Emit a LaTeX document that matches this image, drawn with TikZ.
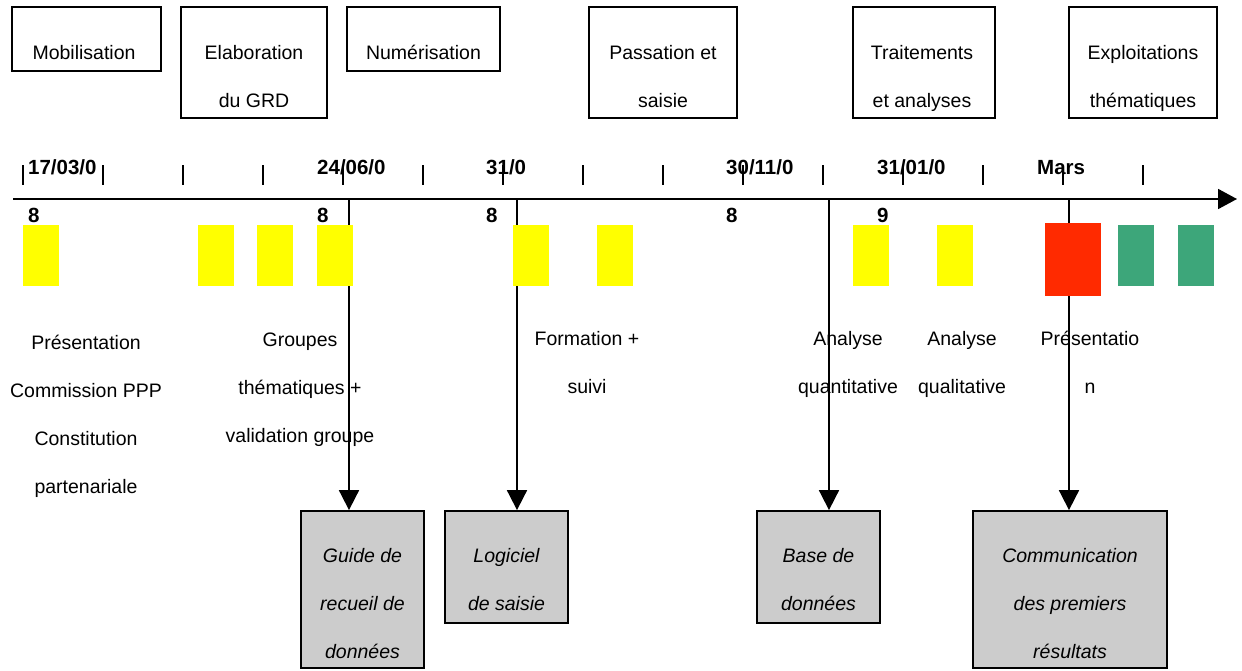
\documentclass[tikz,border=0pt]{standalone}
\usepackage{fontspec}
\setmainfont{Liberation Sans}
\usetikzlibrary{arrows.meta}
\definecolor{ylw}{HTML}{FFFF00}
\definecolor{rd}{HTML}{FF2A00}
\definecolor{grn}{HTML}{3DA67A}
\definecolor{gry}{HTML}{CCCCCC}
\begin{document}
\begin{tikzpicture}[x=1pt,y=-1pt,
  txt/.style={font=\fontsize{19.5}{48}\selectfont, inner sep=0pt, align=center, anchor=base},
  itxt/.style={font=\fontsize{19.5}{48}\selectfont\itshape, inner sep=0pt, align=center, anchor=base},
  datelbl/.style={font=\fontsize{20.5}{48}\selectfont\bfseries, inner sep=0pt, align=left, anchor=base west},
  topbox/.style={draw, line width=1.8pt, inner sep=0pt},
  outbox/.style={draw, line width=1.8pt, fill=gry, inner sep=0pt},
  ybar/.style={fill=ylw, inner sep=0pt, minimum width=36pt, minimum height=61pt},
  gbar/.style={fill=grn, inner sep=0pt, minimum width=36pt, minimum height=61pt},
  arr/.style={line width=1.8pt, -{Triangle[length=20pt,width=20pt]}},
  tickmark/.style={line width=1.8pt}]
\clip (0,0) rectangle (1242,670);

% top phase boxes
\node[topbox, minimum width=149pt, minimum height=64pt] (bmob) at (86.5,39) {};
\node[topbox, minimum width=146pt, minimum height=111pt] (belab) at (254,62.5) {};
\node[topbox, minimum width=153pt, minimum height=64pt] (bnum) at (423.5,39) {};
\node[topbox, minimum width=148pt, minimum height=111pt] (bpass) at (663,62.5) {};
\node[topbox, minimum width=142pt, minimum height=111pt] (btrait) at (924,62.5) {};
\node[topbox, minimum width=148pt, minimum height=111pt] (bexpl) at (1143,62.5) {};
% (anchor=base is the baseline of the last line)
\node[txt] (tmob) at (84,59) {Mobilisation};
\node[txt] (telab) at (254,107) {Elaboration\\du GRD};
\node[txt] (tnum) at (423.5,59) {Numérisation};
\node[txt] (tpass) at (663,107) {Passation et\\saisie};
\node[txt] (ttrait) at (922,107) {Traitements\\et analyses};
\node[txt] (texpl) at (1143,107) {Exploitations\\thématiques};

% dates
\node[datelbl] (d1) at (28,222) {17/03/0\\8};
\node[datelbl] (d2) at (317,222) {24/06/0\\8};
\node[datelbl] (d3) at (486,222) {31/0\\8};
\node[datelbl] (d4) at (726,222) {30/11/0\\8};
\node[datelbl] (d5) at (877,222) {31/01/0\\9};
\node[datelbl] (d6) at (1037,174) {Mars};

% activity labels
\node[txt] (l1) at (86,493) {Présentation\\Commission PPP\\Constitution\\partenariale};
\node[txt] (l2) at (300,442) {Groupes\\thématiques +\\validation groupe};
\node[txt] (l3) at (587,393) {Formation +\\suivi};
\node[txt] (l4) at (848,393) {Analyse\\quantitative};
\node[txt] (l5) at (962,393) {Analyse\\qualitative};
\node[txt] (l6) at (1090,393) {Présentatio\\n};

% timeline
\coordinate (tl0) at (13,199);
\coordinate (tl1) at (1237,199);
\draw[line width=1.8pt, -{Triangle[length=19pt,width=20pt]}] (tl0) -- (tl1);
\foreach \i in {0,...,14} \draw[tickmark] (23+80*\i,165) -- (23+80*\i,185);

% output boxes
\node[outbox, minimum width=123pt, minimum height=157pt] (guide) at (362.5,589.5) {};
\node[outbox, minimum width=123pt, minimum height=112pt] (logi) at (506.5,567) {};
\node[outbox, minimum width=123pt, minimum height=112pt] (bdd) at (818.5,567) {};
\node[outbox, minimum width=194pt, minimum height=157pt] (comm) at (1070,589.5) {};
\node[itxt] (tguide) at (362.5,658) {Guide de\\recueil de\\données};
\node[itxt] (tlogi) at (506.5,610) {Logiciel\\de saisie};
\node[itxt] (tbdd) at (818.5,610) {Base de\\données};
\node[itxt] (tcomm) at (1070,658) {Communication\\des premiers\\résultats};

% arrows from timeline to outputs
\coordinate (a1) at (349,199);
\coordinate (a2) at (517,199);
\coordinate (a3) at (829,199);
\coordinate (a4) at (1069,199);
\draw[arr] (a1) -- (a1 |- guide.north);
\draw[arr] (a2) -- (a2 |- logi.north);
\draw[arr] (a3) -- (a3 |- bdd.north);
\draw[arr] (a4) -- (a4 |- comm.north);

% coloured bars
\node[ybar] (y1) at (41,255.5) {};
\node[ybar] (y2) at (216,255.5) {};
\node[ybar] (y3) at (275,255.5) {};
\node[ybar] (y4) at (335,255.5) {};
\node[ybar] (y5) at (531,255.5) {};
\node[ybar] (y6) at (615,255.5) {};
\node[ybar] (y7) at (871,255.5) {};
\node[ybar] (y8) at (955,255.5) {};
\node[fill=rd, inner sep=0pt, minimum width=56pt, minimum height=73pt] (r1) at (1073,259.5) {};
\node[gbar] (g1) at (1135.5,255.5) {};
\node[gbar] (g2) at (1195.5,255.5) {};
\end{tikzpicture}
\end{document}
